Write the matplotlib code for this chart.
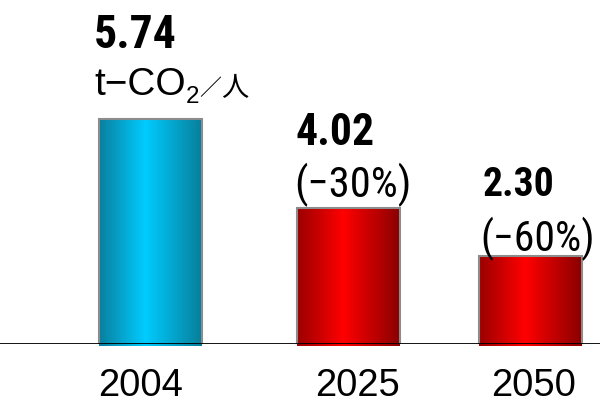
import matplotlib
matplotlib.use("Agg")
import matplotlib.pyplot as plt
import numpy as np
from matplotlib import font_manager as fm
from matplotlib.colors import LinearSegmentedColormap
from matplotlib.font_manager import FontProperties
from matplotlib.textpath import TextPath

W, H = 610, 404

# values
years = ["2004", "2025", "2050"]
bar_heights = [5.74, 3.47, 2.25]   # drawn bar heights (t-CO2 per person scale)
value_labels = ["5.74", "4.02", "2.30"]
change_labels = ["", "(−30%)", "(−60%)"]


def _weight(f):
    w = f.weight
    if isinstance(w, str):
        w = fm.weight_dict.get(w, 400)
    return int(w)


def pick_condensed(bold):
    # the source font is a narrow gothic; use a condensed face if one is installed
    pref = ["Liberation Sans Narrow", "Roboto Condensed", "DejaVu Sans", "Noto Sans",
            "Open Sans", "Lato", "Inter", "Roboto"]
    found = []
    for f in fm.fontManager.ttflist:
        cond = (f.stretch in ("condensed", "semi-condensed", "extra-condensed")
                or "Narrow" in f.name or "Condensed" in f.name)
        if not cond or f.style != "normal" or "Mono" in f.name:
            continue
        w = _weight(f)
        if (bold and w < 600) or (not bold and not 350 <= w <= 500):
            continue
        rank = pref.index(f.name) if f.name in pref else len(pref)
        found.append((rank, f.fname))
    if found:
        return FontProperties(fname=sorted(found)[0][1])
    return FontProperties(family="Liberation Sans", weight="bold" if bold else "normal")


NARROW = pick_condensed(False)
NARROW_B = pick_condensed(True)
SANS = FontProperties(family="Liberation Sans")
CJK = FontProperties(family="Noto Sans CJK JP")

fig = plt.figure(figsize=(W / 100, H / 100), dpi=100)
fig.patch.set_facecolor("white")

# axes: x in pixel units, y=0 sits on the baseline at pixel row 344
px_per_unit = 39.2
ax = fig.add_axes([0, 60 / H, 600 / W, 344 / H])

centers = [150, 348, 530]
bar_w = 103
pad = 0.05  # bars start a hair below the axis line

blue = LinearSegmentedColormap.from_list(
    "blue", [(0, "#0a7f9e"), (0.45, "#00ccff"), (1, "#077f9b")])
red = LinearSegmentedColormap.from_list(
    "red", [(0, "#9a0000"), (0.45, "#ff0000"), (1, "#8a0000")])
cmaps = [blue, red, red]

bars = ax.bar(centers, [h + pad for h in bar_heights], width=bar_w, bottom=-pad,
              facecolor="none", edgecolor="#8c8c8c", linewidth=1.5, zorder=3)

grad = np.linspace(0, 1, 256).reshape(1, -1)
for b, cm in zip(bars, cmaps):
    x0, y0 = b.get_x(), b.get_y()
    im = ax.imshow(grad, cmap=cm, aspect="auto", interpolation="bilinear",
                   extent=(x0, x0 + b.get_width(), y0, y0 + b.get_height()), zorder=2)
    im.set_clip_path(b)

ax.axhline(0, color="black", linewidth=1.3, zorder=4)
ax.set_xlim(0, 600)
ax.set_ylim(0, 344 / px_per_unit)
ax.axis("off")


def fit_text(s, box, prop, mode="min"):
    # real text, sized so its ink fits the box (left, top, right, bottom) in pixels;
    # returns the right edge of the ink
    left, top, right, bottom = box
    ext = TextPath((0, 0), s, size=100, prop=prop).get_extents()
    kw = (right - left) / ext.width
    kh = (bottom - top) / ext.height
    k = min(kw, kh) if mode == "min" else (kw * kh) ** 0.5
    ink_h = ext.height * k
    x = left - ext.x0 * k
    y = (H - bottom) + ((bottom - top) - ink_h) / 2 - ext.y0 * k
    fig.text(x / W, y / H, s, fontproperties=prop, fontsize=100 * k * 0.72,
             ha="left", va="baseline")
    return left + ext.width * k


# value labels
value_boxes = [(96, 15, 175, 48), (297, 113, 375, 145), (484, 167, 560, 196)]
for box, s in zip(value_boxes, value_labels):
    fit_text(s, box, NARROW_B)

# change labels
change_boxes = [None, (297, 163, 418, 207), (483, 218, 606, 261)]
for box, s in zip(change_boxes, change_labels):
    if box and s:
        fit_text(s, box, NARROW)

# unit label t-CO2/人, pieces chained left to right
r = fit_text("t−CO", (95, 67, 184, 96), SANS)
r = fit_text("2", (r + 3, 85, r + 14, 104), SANS)
r = fit_text("／", (r + 2, 76, r + 21, 98), CJK, mode="mean")
fit_text("人", (r + 2, 75, r + 30, 97), CJK, mode="mean")

# year labels
year_boxes = [(100, 369, 192, 396), (317, 369, 406, 396), (493, 369, 583, 396)]
for box, s in zip(year_boxes, years):
    fit_text(s, box, SANS)

fig.savefig("out.png", dpi=100)
